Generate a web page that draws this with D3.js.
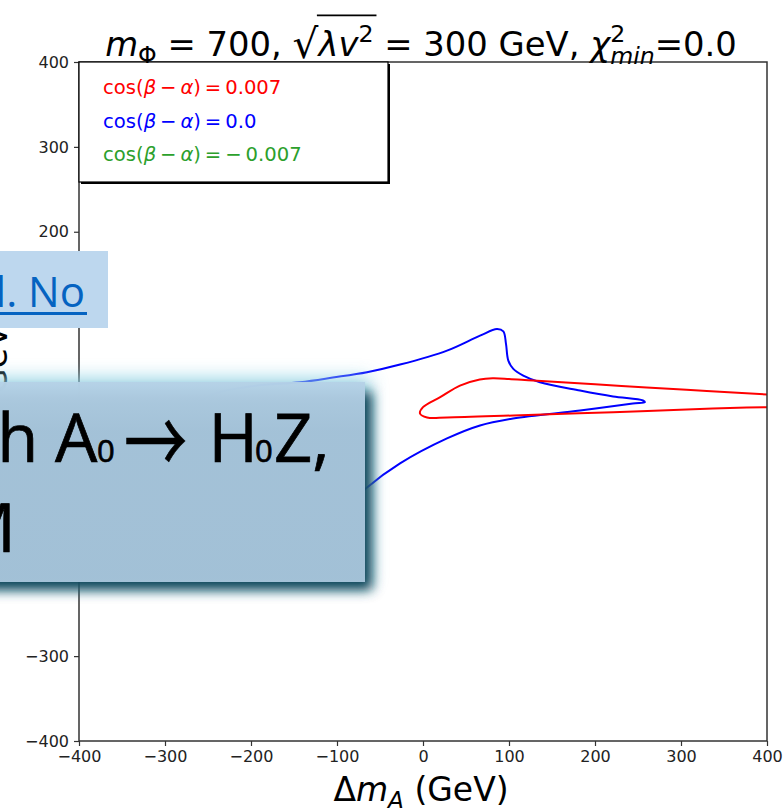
<!DOCTYPE html>
<html><head><meta charset="utf-8">
<script src="https://cdn.jsdelivr.net/npm/d3@7"></script>
<style>html,body{margin:0;padding:0;background:#fff;overflow:hidden}svg{display:block}text{white-space:pre}</style>
</head><body><svg id="c" width="784" height="808"></svg>
<script>
// ---------- data ----------
const xTicks = [-400, -300, -200, -100, 0, 100, 200, 300, 400];
const yTicks = [-400, -300, -200, -100, 0, 100, 200, 300, 400];
const legendValues = ["0.007", "0.0", "\u2212\u20090.007"];
const seriesColors = ["#ff0000", "#0000ff", "#2ca02c"];
// cos(beta-alpha)=0.007 (red), open contour running off the right edge
const redX = [470, 400, 330, 260, 200, 128, 100, 81, 66, 43, 20, 0, -3.5, 4.7, 28, 105, 221, 337, 400, 470];
const redY = [4.5, 8.2, 12.5, 16.5, 20.3, 24.7, 26.6, 27.4, 26, 18.8, 5.1, -6.7, -14.1, -18.8, -18.8, -16.5, -12.6, -8.2, -6.7, -5.2];
// cos(beta-alpha)=0.0 (blue), closed contour
const blueX = [258, 255.8, 221, 182.6, 136, 116.6, 105, 99.2, 96.5, 93.4, 86, 66.3, 27.9, -26.7, -65.1, -104.7, -143, -201, -248, -283, -294, -283, -248, -201, -163, -143, -104.7, -65.1, -26.7, 27.9, 66.3, 104.7, 182.6, 244];
const blueY = [-0.8, 1.2, 5.9, 12.9, 22.7, 30.6, 38.5, 48.2, 67.9, 82.7, 85.3, 77.6, 60, 43.5, 34.5, 28.2, 22.7, 17.6, 7, -22, -81, -140, -187, -201, -187, -173, -140, -101.2, -72.9, -43.5, -28.2, -20, -10.6, -2.4];

const svg = d3.select("#c");
const x = d3.scaleLinear([-400, 400], [79, 767]);
const y = d3.scaleLinear([-400, 400], [741, 62]);
const fmt = d => (d < 0 ? "\u2212" : "") + Math.abs(d);
const FONT = "DejaVu Sans";

svg.append("defs").append("clipPath").attr("id", "clip")
  .append("rect").attr("x", 79).attr("y", 62).attr("width", 688).attr("height", 679);

// curves
const line = d3.line().x(d => x(d[0])).y(d => y(d[1]));
svg.append("path").datum(blueX.map((v, i) => [v, blueY[i]]))
  .attr("clip-path", "url(#clip)").attr("fill", "none").attr("stroke", seriesColors[1]).attr("stroke-width", 2)
  .attr("d", line.curve(d3.curveCatmullRomClosed.alpha(0.5)));
svg.append("path").datum(redX.map((v, i) => [v, redY[i]]))
  .attr("clip-path", "url(#clip)").attr("fill", "none").attr("stroke", seriesColors[0]).attr("stroke-width", 2)
  .attr("d", line.curve(d3.curveCatmullRom.alpha(0.5)));

// axes
const ax = svg.append("g").attr("transform", "translate(0,741)")
  .call(d3.axisBottom(x).tickValues(xTicks).tickFormat(fmt).tickSize(5).tickSizeOuter(0).tickPadding(5));
const ay = svg.append("g").attr("transform", "translate(79,0)")
  .call(d3.axisLeft(y).tickValues(yTicks).tickFormat(fmt).tickSize(5).tickSizeOuter(0).tickPadding(5));
[ax, ay].forEach(g => {
  g.select(".domain").remove();
  g.selectAll("line").attr("stroke", "#333").attr("stroke-width", 1.2);
  g.selectAll("text").attr("font-family", FONT).attr("font-size", 16).attr("fill", "#222");
});
svg.append("rect").attr("x", 79).attr("y", 62).attr("width", 688).attr("height", 679)
  .attr("fill", "none").attr("stroke", "#333").attr("stroke-width", 1.5);

// mathtext helper
function mathText(parent, pieces, size, color) {
  const g = parent.append("g");
  let cx = 0; const meta = [];
  pieces.forEach(p => {
    const fs = size * (p.s || 1);
    const x0 = cx + (p.dx || 0) * size;
    const t = g.append("text").attr("x", x0).attr("y", (p.dy || 0) * size)
      .attr("font-size", fs).attr("font-style", p.i ? "italic" : "normal")
      .attr("font-family", FONT).attr("fill", color).text(p.t);
    const w = t.node().getComputedTextLength();
    meta.push({ x0, w });
    if (!p.noadv) cx = x0 + w;
  });
  return { g, width: cx, meta };
}

// legend
svg.append("rect").attr("x", 81).attr("y", 64).attr("width", 309).attr("height", 120).attr("fill", "#000");
svg.append("rect").attr("x", 79).attr("y", 62).attr("width", 309).attr("height", 120)
  .attr("fill", "#fff").attr("stroke", "#000").attr("stroke-width", 1.2);
legendValues.forEach((v, i) => {
  const m = mathText(svg, [
    { t: "cos(" }, { t: "β", i: 1 }, { t: "\u2009\u2212\u2009" }, { t: "α", i: 1 }, { t: ")\u2009=\u2009" + v }
  ], 19.6, seriesColors[i]);
  m.g.attr("transform", `translate(103,${94 + i * 33.5})`);
});

// title (auto-fitted to the reference width)
const titlePieces = [
  { t: "m", i: 1 }, { t: "Φ", s: 0.7, dy: 0.22 }, { t: " = 700, " },
  { t: "\u221A", s: 1.2, dy: 0.06 }, { t: "λv", i: 1 }, { t: "2", s: 0.7, dy: -0.42 },
  { t: " = 300 GeV, " }, { t: "χ", i: 1 }, { t: "2", s: 0.7, dy: -0.42, noadv: 1 },
  { t: "min", s: 0.7, dy: 0.25, i: 1 }, { t: "=0.0" }
];
let T = 34;
let title = mathText(svg, titlePieces, T, "#000");
T = T * 632 / title.width; title.g.remove();
title = mathText(svg, titlePieces, T, "#000");
{
  const r = title.meta[3], e = title.meta[5];
  title.g.append("line").attr("x1", r.x0 + r.w - 1.5).attr("x2", e.x0 + e.w + 3)
    .attr("y1", -1.2 * T).attr("y2", -1.2 * T).attr("stroke", "#000").attr("stroke-width", 1.6);
  title.g.attr("transform", `translate(${421 - title.width / 2},56)`);
}

// x label
const xl = mathText(svg, [{ t: "Δ" }, { t: "m", i: 1 }, { t: "A", s: 0.7, dy: 0.22, i: 1 }, { t: " (GeV)" }], 33, "#000");
xl.g.attr("transform", `translate(${421 - xl.width / 2},801)`);
// y label
const yl = mathText(svg, [{ t: "Δ" }, { t: "m", i: 1 }, { t: "H", s: 0.7, dy: 0.22, i: 1 }, { t: " (GeV)" }], 33, "#000");
yl.g.attr("transform", `translate(7,401) rotate(-90) translate(${-yl.width / 2},0)`);

// ---------- slide overlays ----------
const defs = svg.select("defs");
defs.append("filter").attr("id", "blur9").attr("x", "-30%").attr("y", "-30%").attr("width", "160%").attr("height", "160%")
  .append("feGaussianBlur").attr("stdDeviation", 9);
defs.append("filter").attr("id", "blur6").attr("x", "-30%").attr("y", "-30%").attr("width", "160%").attr("height", "160%")
  .append("feGaussianBlur").attr("stdDeviation", 6);
const gr = defs.append("linearGradient").attr("id", "boxg").attr("x1", 0).attr("y1", 0).attr("x2", 0).attr("y2", 1);
gr.append("stop").attr("offset", "0%").attr("stop-color", "#b6d2e7");
gr.append("stop").attr("offset", "25%").attr("stop-color", "#abc8de");
gr.append("stop").attr("offset", "100%").attr("stop-color", "#aac7dd");

// small link box
svg.append("rect").attr("x", 0).attr("y", 251).attr("width", 108).attr("height", 77).attr("fill", "#bdd7ee");
svg.append("text").attr("x", 85).attr("y", 307).attr("text-anchor", "end")
  .attr("font-family", "Open Sans").attr("font-size", 42).attr("fill", "#0563c1").text("l. No");
svg.append("rect").attr("x", 0).attr("y", 312).attr("width", 87).attr("height", 3).attr("fill", "#0563c1");

// big box: glow + shadow + box
svg.append("rect").attr("x", -30).attr("y", 378).attr("width", 400).attr("height", 206)
  .attr("fill", "#8fd2e4").attr("opacity", 0.9).attr("filter", "url(#blur9)");
svg.append("rect").attr("x", -30).attr("y", 392).attr("width", 402).attr("height", 198)
  .attr("fill", "#0e4459").attr("filter", "url(#blur6)");
svg.append("rect").attr("x", -5).attr("y", 382).attr("width", 370).attr("height", 200)
  .attr("fill", "url(#boxg)").attr("opacity", 0.95);

const BF = "Open Sans";
const bt = svg.append("g").attr("fill", "#000").attr("stroke", "#000").attr("stroke-width", 0.7);
bt.append("text").attr("x", -2.7).attr("y", 462).attr("font-family", BF).attr("font-size", 67).text("h");
bt.append("text").attr("x", 55).attr("y", 462).attr("font-family", BF).attr("font-size", 67).text("A");
bt.append("text").attr("x", 97).attr("y", 462).attr("font-family", BF).attr("font-size", 31).text("0");
bt.append("text").attr("transform", "translate(124,474) scale(0.72,1)").attr("font-family", "Noto Sans CJK SC")
  .attr("font-size", 88).text("→");
bt.append("text").attr("x", 208.5).attr("y", 462).attr("font-family", BF).attr("font-size", 67).text("H");
bt.append("text").attr("x", 255).attr("y", 462).attr("font-family", BF).attr("font-size", 31).text("0");
bt.append("text").attr("x", 274).attr("y", 462).attr("font-family", BF).attr("font-size", 67).text("Z,");
bt.append("text").attr("x", 16).attr("y", 552).attr("text-anchor", "end").attr("font-family", BF).attr("font-size", 68).text("M");
</script></body></html>
